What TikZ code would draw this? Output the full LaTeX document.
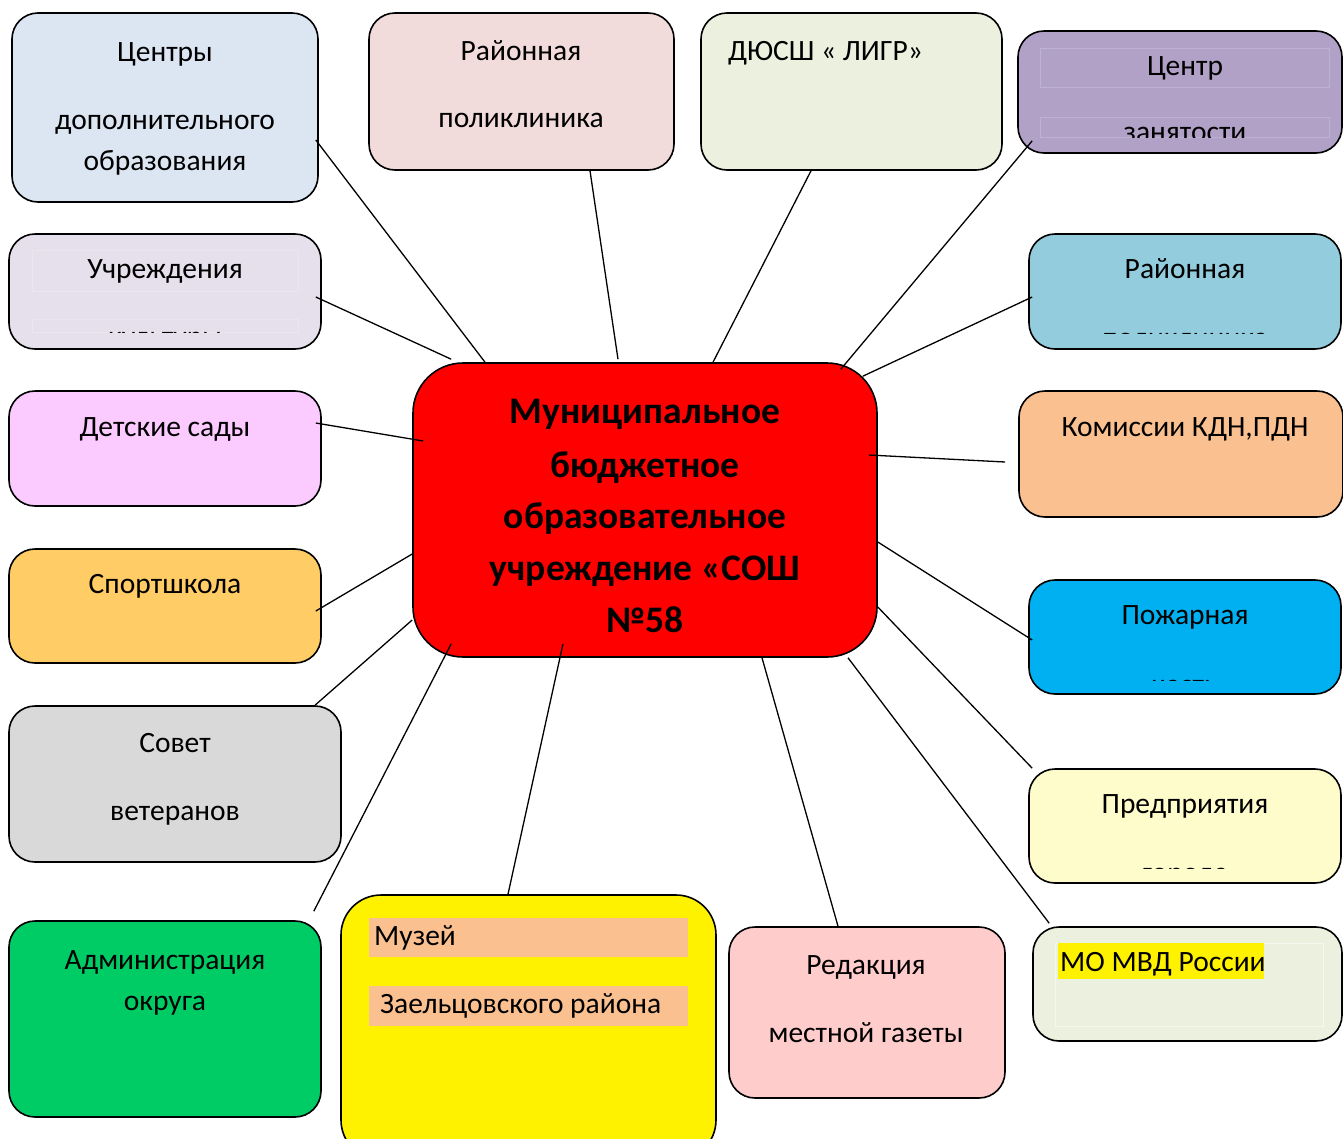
\documentclass[tikz,border=0pt]{standalone}
\usepackage{fontspec}
\setmainfont{Carlito}
\usetikzlibrary{calc}
\definecolor{cdoblue}{HTML}{DCE6F2}
\definecolor{polpink}{HTML}{F2DCDB}
\definecolor{dyugreen}{HTML}{EBF1DE}
\definecolor{zanviolet}{HTML}{B2A1C7}
\definecolor{kullilac}{HTML}{E6E0EC}
\definecolor{rpolteal}{HTML}{93CDDD}
\definecolor{sadpink}{HTML}{FBCAFE}
\definecolor{kdnorange}{HTML}{FAC090}
\definecolor{spoyellow}{HTML}{FFCC66}
\definecolor{pojblue}{HTML}{00B0F0}
\definecolor{vetgrey}{HTML}{D9D9D9}
\definecolor{predcream}{HTML}{FFFCCC}
\definecolor{admgreen}{HTML}{00CC66}
\definecolor{redpink}{HTML}{FFCCCC}
\begin{document}
\begin{tikzpicture}[x=1pt,y=-1pt,
  box/.style={draw=black,line width=1.6pt,rounded corners=26pt,inner sep=0pt},
  txt/.style={anchor=base,inner sep=0pt,font=\fontsize{29.5}{34}\selectfont},
  bigtxt/.style={anchor=base,inner sep=0pt,font=\fontsize{37.5}{42}\selectfont\bfseries},
  faint/.style={draw=white,draw opacity=0.18,line width=0.8pt},
  link/.style={draw=black,line width=1.3pt}]
\clip (0,0) rectangle (1343,1138);
\fill[white] (0,0) rectangle (1343,1138);

\node[box,fill=cdoblue,minimum width=306pt,minimum height=189pt] (cdo) at (165,107.5) {};
\node[box,fill=polpink,minimum width=305pt,minimum height=157pt] (pol) at (521.5,91.5) {};
\node[box,fill=dyugreen,minimum width=301pt,minimum height=157pt] (dyu) at (851.5,91.5) {};
\node[box,fill=zanviolet,minimum width=324pt,minimum height=122pt] (zan) at (1180,92) {};
\node[box,fill=kullilac,minimum width=312pt,minimum height=115pt] (kul) at (165,291.5) {};
\node[box,fill=rpolteal,minimum width=312pt,minimum height=115pt] (rpol) at (1185,291.5) {};
\node[box,fill=sadpink,minimum width=312pt,minimum height=115pt] (sad) at (165,448.5) {};
\node[box,fill=kdnorange,minimum width=324pt,minimum height=126pt] (kdn) at (1181,454) {};
\node[box,fill=spoyellow,minimum width=312pt,minimum height=114pt] (spo) at (165,606) {};
\node[box,fill=pojblue,minimum width=312pt,minimum height=114pt] (poj) at (1185,637) {};
\node[box,fill=vetgrey,minimum width=332pt,minimum height=156pt] (vet) at (175,784) {};
\node[box,fill=predcream,minimum width=312pt,minimum height=114pt] (pred) at (1185,826) {};
\node[box,fill=admgreen,minimum width=312pt,minimum height=196pt] (adm) at (165,1019) {};
\node[box,fill=yellow,minimum width=375pt,minimum height=265pt,rounded corners=40pt] (muz) at (528.5,1027.5) {};
\node[box,fill=redpink,minimum width=276pt,minimum height=171pt] (red) at (867,1012.5) {};
\node[box,fill=dyugreen,minimum width=309pt,minimum height=114pt] (mvd) at (1187.5,984) {};
\node[box,fill=red,minimum width=464pt,minimum height=294pt,rounded corners=50pt] (main) at (645,510) {};

\draw[link] ($(cdo.east)+(-3,32.5)$) -- ($(main.north)+(-160,0)$);
\draw[link] ($(pol.south)+(68.5,0)$) -- ($(main.north)+(-27,-3)$);
\draw[link] ($(dyu.south)+(-40.5,0)$) -- ($(main.north)+(68,0)$);
\draw[link] ($(zan.south west)+(15,-13)$) -- ($(main.north east)+(-37,7)$);
\draw[link] ($(kul.east)+(-6,5.5)$) -- ($(main.north west)+(39,-3)$);
\draw[link] ($(rpol.west)+(4,5.5)$) -- ($(main.north east)+(-15,14)$);
\draw[link] ($(sad.east)+(-6,-25.5)$) -- ($(main.west)+(11,-69)$);
\draw[link] ($(kdn.west)+(-13,8)$) -- ($(main.east)+(-9,-55)$);
\draw[link] ($(spo.east)+(-6,5)$) -- ($(main.west)+(0,44)$);
\draw[link] ($(poj.west)+(4,3)$) -- ($(main.east)+(0,32)$);
\draw[link] ($(vet.north)+(140,0)$) -- ($(main.west)+(0,110)$);
\draw[link] ($(pred.north west)+(4,0)$) -- ($(main.east)+(0,97)$);
\draw[link] ($(adm.north east)+(-8,-9)$) -- ($(main.south west)+(39,-14)$);
\draw[link] ($(muz.north)+(-20.5,0)$) -- ($(main.south)+(-82,-14)$);
\draw[link] ($(red.north)+(-29,0)$) -- ($(main.south)+(117,0)$);
\draw[link] ($(mvd.north west)+(17,-3)$) -- ($(main.south)+(203,0)$);

\node[txt] (cdo1) at (165,61) {Центры};
\node[txt] (cdo2) at (165,129) {дополнительного};
\node[txt] (cdo3) at (165,170) {образования};
\node[txt] (pol1) at (521,60) {Районная};
\node[txt] (pol2) at (521,127) {поликлиника};
\node[txt,anchor=base west] (dyu1) at (728,60) {ДЮСШ « ЛИГР»};

\draw[faint] (1040,48) rectangle (1329,87);
\draw[faint] (1040,117) rectangle (1329,137);
\node[txt] (zan1) at (1185,75) {Центр};
\begin{scope}
\clip (1040,117) rectangle (1329,137);
\node[txt] (zan2) at (1185,141) {занятости};
\end{scope}

\draw[faint] (32,250) rectangle (298,291);
\draw[faint] (32,319) rectangle (298,332);
\node[txt] (kul1) at (165,278) {Учреждения};
\begin{scope}
\clip (32,319) rectangle (298,332);
\node[txt] (kul2) at (165,346) {культуры};
\end{scope}

\node[txt] (rpol1) at (1185,278) {Районная};
\begin{scope}
\clip (1050,319) rectangle (1320,333);
\node[txt] (rpol2) at (1185,347) {поликлиника};
\end{scope}

\node[txt] (sad1) at (165,436) {Детские сады};
\node[txt] (kdn1) at (1185,436) {Комиссии КДН,ПДН};
\node[txt] (spo1) at (165,593) {Спортшкола};

\node[txt] (poj1) at (1185,624) {Пожарная};
\begin{scope}
\clip (1050,660) rectangle (1320,680);
\node[txt] (poj2) at (1185,694) {часть};
\end{scope}

\node[txt] (vet1) at (175,752) {Совет};
\node[txt] (vet2) at (175,820) {ветеранов};

\node[txt] (pred1) at (1185,813) {Предприятия};
\begin{scope}
\clip (1050,850) rectangle (1320,868);
\node[txt] (pred2) at (1185,882) {города};
\end{scope}

\node[txt] (adm1) at (165,969) {Администрация};
\node[txt] (adm2) at (165,1010) {округа};

\fill[kdnorange] (369,918) rectangle (688,957);
\fill[kdnorange] (369,986) rectangle (688,1026);
\node[txt,anchor=base west] (muz1) at (374,945) {Музей};
\node[txt,anchor=base west] (muz2) at (380,1013) {Заельцовского района};

\node[txt] (red1) at (866,974) {Редакция};
\node[txt] (red2) at (866,1042) {местной газеты};

\draw[faint,draw opacity=0.5] (1055,943) rectangle (1323,1026);
\fill[yellow] (1058,943) rectangle (1264,979);
\node[txt,anchor=base west] (mvd1) at (1060,971) {МО МВД России};

\node[bigtxt] (main1) at (645,423) {Муниципальное};
\node[bigtxt] (main2) at (645,477) {бюджетное};
\node[bigtxt] (main3) at (645,528) {образовательное};
\node[bigtxt] (main4) at (645,580) {учреждение «СОШ};
\node[bigtxt] (main5) at (645,632) {№58};
\end{tikzpicture}
\end{document}
